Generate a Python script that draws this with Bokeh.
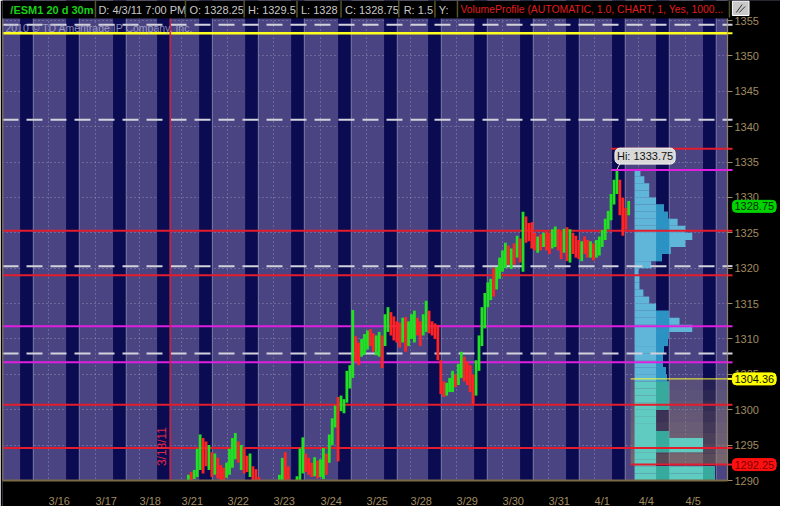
import numpy as np
from bokeh.plotting import figure
from bokeh.models import Range1d, FixedTicker, Label, LinearAxis
from bokeh.core.properties import value
from bokeh.embed import file_html
from bokeh.resources import INLINE

# ---------------- data ----------------
session_labels = ["3/15", "3/16", "3/17", "3/18", "3/21", "3/22", "3/23", "3/24",
                  "3/25", "3/28", "3/29", "3/30", "3/31", "4/1", "4/4", "4/5"]
# half-hour slots per session
session_slots = [47, 48, 45, 43, 47, 47, 48, 47, 45, 47, 47, 47, 47, 45, 48, 47]

# 90-minute bars starting in the 3/21 session
bar_high = [1289, 1289.5, 1290.8, 1291.2, 1291.5, 1294.5, 1296.5, 1296, 1295.5, 1295,
            1294, 1293.8, 1293.2, 1292.2, 1291.8, 1292.5, 1294.5, 1296.0, 1296.7, 1295.5,
            1295, 1294.5, 1293.5, 1293.8, 1292, 1291.6, 1290.5, 1289.5, 1289.2, 1289,
            1289.3, 1289.6, 1289.8, 1290.8, 1293.2, 1294.0, 1292, 1290, 1289.5, 1290.6,
            1294.5, 1296.1, 1293.8, 1293.2, 1292.5, 1293.3, 1292.8, 1293.0, 1294.6, 1293.8,
            1296.5, 1298.8, 1300.6, 1301.8, 1302, 1301.5, 1305.5, 1306.3, 1314.1, 1310.4,
            1309.5, 1310, 1310.7, 1311.2, 1311.4, 1310.8, 1310.5, 1311.0, 1310.5, 1313.5,
            1314.5, 1313.8, 1313.2, 1312.5, 1312.3, 1313, 1313.1, 1312.5, 1313.5, 1314,
            1313, 1312.5, 1313.5, 1315.4, 1314, 1312.5, 1312.2, 1312, 1307, 1304,
            1303.8, 1304.5, 1305.5, 1305, 1306.5, 1308.2, 1307.5, 1306.8, 1306.3, 1305,
            1307, 1310.5, 1314.5, 1316.5, 1318, 1318.5, 1320, 1320.2, 1321.5, 1322.5,
            1323.6, 1323.2, 1322.8, 1323.5, 1324.6, 1324.2, 1328, 1327.3, 1326.4, 1326.5,
            1325, 1324.5, 1324.8, 1325, 1325.2, 1325, 1325.5, 1325.9, 1325.5, 1325.2,
            1325.6, 1325.8, 1325.5, 1325, 1324.6, 1324, 1323.8, 1324.5, 1324, 1323.8,
            1323.5, 1324, 1324.5, 1325.4, 1327, 1328.1, 1330.5, 1332.5, 1333.75, 1332.5,
            1330, 1328.5, 1329.5]
bar_low = [1288, 1288, 1289.5, 1290, 1290.2, 1290.5, 1291.5, 1291, 1292, 1291.5,
           1290.5, 1290.8, 1290.3, 1289.8, 1290, 1290.4, 1290.8, 1291.8, 1293, 1292.5,
           1291.5, 1291, 1291.2, 1290.5, 1290, 1289.8, 1289, 1288, 1287.5, 1287,
           1287.5, 1288, 1288.5, 1289, 1289.5, 1290, 1289.8, 1288.5, 1288.3, 1289,
           1290, 1291, 1291.2, 1290.8, 1290.5, 1290.6, 1290.3, 1290.5, 1290.2, 1290.8,
           1292.5, 1295, 1297.5, 1292.7, 1299.8, 1299.5, 1301, 1303, 1304.5, 1306.8,
           1306.3, 1307.5, 1307.8, 1308.5, 1309, 1308.2, 1307.7, 1307.5, 1305.9, 1309,
           1311, 1310.5, 1309.8, 1309.5, 1308.8, 1309.5, 1308.2, 1309, 1310, 1309.5,
           1310.5, 1309, 1310.5, 1311, 1310.8, 1310.5, 1310, 1307, 1302.2, 1301.8,
           1302, 1302.5, 1302.5, 1303.2, 1303.5, 1304.5, 1304, 1303.5, 1302.5, 1300.8,
           1302, 1305.5, 1309, 1311.5, 1314.5, 1315.5, 1316, 1317, 1318.5, 1319.5,
           1320, 1320.5, 1319.9, 1320.5, 1321.5, 1320.8, 1319.5, 1323.6, 1323.8, 1322.8,
           1322.5, 1322.2, 1322.5, 1323, 1322.5, 1322, 1322.8, 1323, 1322.5, 1321.3,
           1322.2, 1321, 1320.8, 1322, 1321.5, 1321.3, 1321, 1322, 1321.5, 1321.5,
           1321.1, 1321.5, 1321.8, 1323, 1324, 1325.5, 1326.8, 1329, 1330.5, 1327.5,
           1324.6, 1325.5, 1327.5]
bar_dir = ("GGGRG" "GGRRG" "RGRRRG" "GGG" "RGRRGRRR" "RRGRGGG" "GRRRRG" "GGRRRGRG"
           "GRGGGRGGGGG" "RRGGGRRGGR" "GGRRRRGRG" "GGRRGGRRR" "RRRGGGR" "GGRRRRG"
           "GGGGGRGGGGRGRGR" "GRRRRGRGR" "RGGRRGRGRRRGRRGR" "GGGGGGGGRRRG")

# key price levels
level_price = [1354.4, 1353.2, 1341.0, 1336.9, 1333.9, 1325.3, 1320.3, 1319.0,
               1311.8, 1307.95, 1306.7, 1304.36, 1300.7, 1294.6, 1292.25]
level_kind = ["pivot", "yellow", "pivot", "red", "magenta", "red", "pivot", "red",
              "magenta", "pivot", "magenta", "value", "red", "red", "red"]
level_from = ["chart", "chart", "chart", "hi", "hi", "chart", "chart", "chart",
              "chart", "chart", "chart", "profile", "chart", "chart", "profile"]

# volume profile (1-point bins)
profile_price = list(range(1290, 1334))
profile_volume = [82, 82, 22, 22, 70, 70, 35, 22, 22, 22,
                  35, 35, 35, 35, 33, 32, 29, 29, 30, 34,
                  35, 59, 46, 35, 22, 15, 9, 5, 5, 4,
                  17, 28, 37, 52, 59, 52, 44, 34, 30, 22,
                  15, 15, 10, 6]
value_area_low = 1292.25
value_area_high = 1304.36
last_price = 1328.75

header_fields = ["/ESM1 20 d 30m", "D: 4/3/11 7:00 PM", "O: 1328.25", "H: 1329.5",
                 "L: 1328", "C: 1328.75", "R: 1.5", "Y:",
                 "VolumeProfile (AUTOMATIC, 1.0, CHART, 1, Yes, 1000..."]
y_ticks = list(range(1290, 1356, 5))

# ---------------- layout constants ----------------
W, H = 780, 506
BL = 2
HEADER, FOOTER, STRIP = 18, 26, 53
PLOT_W = W - BL - STRIP
PLOT_H = H - FOOTER - HEADER
X_PLOT = 741.0
Y0, Y_PLOT = 1290.0, 1355.3
KX = PLOT_W / X_PLOT
PPT = PLOT_H / (Y_PLOT - Y0)
X_END = X_PLOT + STRIP / KX
Y_END = Y_PLOT + HEADER / PPT
Y_START = Y0 - FOOTER / PPT
Y_HEAD = Y_PLOT + (HEADER / 2) / PPT

LIGHT = "#4a4582"
DARK = "#0b0b52"
TAN = "#a08c60"
FONT = "Liberation Sans"

session_start = np.concatenate([[0], np.cumsum(session_slots)[:-1]]).astype(float)
band_left = session_start + 18
band_right = band_left + 13.5

p = figure(width=W, height=H, x_range=Range1d(0, X_END), y_range=Range1d(Y_START, Y_END),
           output_backend="svg", toolbar_location=None, y_axis_location=None,
           x_axis_location=None,
           min_border_left=BL, min_border_right=0, min_border_top=0, min_border_bottom=0)
p.background_fill_color = LIGHT
p.border_fill_color = "black"
p.outline_line_color = None

p.xgrid.ticker = FixedTicker(ticks=list(session_start))
p.ygrid.ticker = FixedTicker(ticks=y_ticks)
for g in (p.xgrid, p.ygrid):
    g.grid_line_color = "#a4a4c8"
    g.grid_line_dash = "1 3"
    g.grid_line_alpha = 0.75

# RTH bands
p.quad(left=band_left, right=band_right, bottom=1280, top=1360, fill_color=DARK, line_color=None)
p.segment(x0=band_right, x1=band_right, y0=1280, y1=1360, line_color="#7c7ca6", line_width=1)

# value area box
profile_left = float(session_start[14] - 4)
nstrip = 8
edges = np.linspace(value_area_high, value_area_low, nstrip + 1)
p.quad(left=profile_left - 4, right=X_PLOT, top=edges[:-1], bottom=edges[1:],
       fill_color="#9a8060", fill_alpha=np.linspace(0.18, 0.55, nstrip), line_color=None)

# volume profile
pp = np.array(profile_price, dtype=float)
pv = np.array(profile_volume, dtype=float)
upper = pp >= 1304
cols = np.where(upper, "#60b6d8", "#60cbc1")
p.hbar(y=pp + 0.5, height=1, left=profile_left, right=profile_left + pv,
       fill_color=list(cols), line_color=None)
for bl, br in zip(band_left, band_right):
    lo = np.maximum(np.full_like(pv, profile_left), bl)
    hi = np.minimum(profile_left + pv, br)
    m = hi > lo
    if m.any():
        p.hbar(y=pp[m] + 0.5, height=1, left=lo[m], right=hi[m],
               fill_color=list(np.where(upper[m], "#2b92c4", "#37aa9e")), line_color=None)

# bars
bx = session_start[4] + 1 + 3 * np.arange(len(bar_high))
bcol = ["#22e022" if c == "G" else "#ff2424" for c in bar_dir]
hi_idx = int(np.argmax(bar_high))
hi_x = float(bx[hi_idx])
hi_val = bar_high[hi_idx]

# level lines
style = {"pivot": ("#d2d2dc", 2, "16 8"), "yellow": ("#ffff20", 2.5, "solid"),
         "red": ("#e41c2c", 2, "solid"), "magenta": ("#e01ee0", 2, "solid"),
         "value": ("#ffff30", 1, "solid")}
start_of = {"chart": 0, "hi": hi_x - 6, "profile": profile_left - 4}
for pr, k, f in zip(level_price, level_kind, level_from):
    c, w, d = style[k]
    p.segment(x0=[start_of[f]], x1=[X_PLOT], y0=[pr], y1=[pr], line_color=c, line_width=w, line_dash=d)

p.segment(x0=bx, x1=bx, y0=bar_low, y1=bar_high, line_color=bcol, line_width=2.8)

# 3/18 expiration marker
exp_x = float(band_right[3])
p.segment(x0=[exp_x], x1=[exp_x], y0=[Y0], y1=[Y_PLOT], line_color="#d02040", line_width=1.5)
p.text(x=[exp_x - 8], y=[1294.8], text=["3/18/11"], angle=np.pi / 2, text_align="center",
       text_baseline="middle", text_color="#e02848", text_font=value(FONT), text_font_size="12px")

# Hi label
p.segment(x0=[hi_x], x1=[hi_x + 4], y0=[hi_val + 0.2], y1=[hi_val + 1.3], line_color="#d0d0d0", line_width=1)
p.add_layout(Label(x=hi_x, y=hi_val + 2.1, x_offset=-2, text=f"Hi: {hi_val:.2f}",
                   text_font=FONT, text_font_size="11px", text_color="#111111",
                   text_baseline="middle", background_fill_color="#d9d9d9",
                   border_line_color="#f0f0f0", border_radius=5, padding=2))

# copyright
p.add_layout(Label(x=3, y=Y_PLOT - 1.3, text="2010 \u00a9 TD Ameritrade IP Company, Inc.",
                   text_font=FONT, text_font_size="10.5px", text_color="#b8b8d4", text_alpha=0.75,
                   text_baseline="middle"))

# black surroundings: right strip, header, footer; plot borders
p.quad(left=[X_PLOT], right=[X_END + 5], bottom=[1200], top=[1400], fill_color="black", line_color=None)
p.quad(left=[-5], right=[X_END + 5], bottom=[Y_PLOT], top=[1400], fill_color="black", line_color=None)
p.quad(left=[-5], right=[X_END + 5], bottom=[1200], top=[Y0], fill_color="black", line_color=None)
p.segment(x0=[0, 0], x1=[0, X_PLOT], y0=[Y0, Y0], y1=[Y_PLOT, Y0], line_color="#7a6a46", line_width=2)
p.segment(x0=[X_PLOT], x1=[X_PLOT], y0=[Y0], y1=[Y_PLOT], line_color="#8c8068", line_width=1.2)

# price axis at the right edge of the price area
yax = LinearAxis(fixed_location=X_PLOT, ticker=FixedTicker(ticks=y_ticks))
yax.axis_line_color = None
yax.major_tick_line_color = TAN
yax.major_tick_out = 5
yax.major_tick_in = 0
yax.minor_tick_line_color = None
yax.major_label_text_color = TAN
yax.major_label_text_font = FONT
yax.major_label_text_font_size = "11px"
yax.major_label_standoff = 2
p.add_layout(yax, "right")

# date axis at the bottom edge of the price area
tick_pos = [int(session_start[i] + round(2.65 * len(session_labels[i])))
            for i in range(1, len(session_labels))]
xax = LinearAxis(fixed_location=Y0, ticker=FixedTicker(ticks=tick_pos))
xax.major_label_overrides = {t: session_labels[i + 1] for i, t in enumerate(tick_pos)}
xax.axis_line_color = None
xax.major_tick_line_color = None
xax.minor_tick_line_color = None
xax.major_label_text_color = TAN
xax.major_label_text_font = FONT
xax.major_label_text_font_size = "11px"
xax.major_label_standoff = 8
p.add_layout(xax, "below")

# coloured level marks on the price axis
mark_col = [style[k][0] for k in level_kind]
p.segment(x0=[X_PLOT] * len(level_price), x1=[X_PLOT + 5 / KX] * len(level_price),
          y0=level_price, y1=level_price, line_color=mark_col, line_width=2)

# right price boxes
for val, bg, fg in [(last_price, "#00d400", "#002800"), (value_area_high, "#ffff00", "#101000"),
                    (value_area_low, "#ff1010", "#7a0000")]:
    p.add_layout(Label(x=X_PLOT + 5, y=val, text=f"{val:.2f}",
                       text_font=FONT, text_font_size="11px", text_color=fg,
                       text_baseline="middle", background_fill_color=bg,
                       border_line_color=bg, border_radius=4, padding=2))

# header texts
hx = [8, 98, 191, 251, 305, 350, 410, 446, 468]
hcol = ["#18d018"] + ["#c8c8c8"] * 7 + ["#e01c1c"]
hstyle = ["bold"] + ["normal"] * 8
hsize = ["11px"] * 8 + ["10.4px"]
p.text(x=hx, y=[Y_HEAD] * len(hx), text=header_fields, text_color=hcol,
       text_font_style=hstyle, text_font=value(FONT), text_font_size=hsize,
       text_baseline="middle", text_align="left")
sep_x = [95, 187, 247, 301, 346, 405, 442, 465, 743]
p.segment(x0=sep_x, x1=sep_x, y0=[Y_PLOT + 0.15] * len(sep_x), y1=[Y_END] * len(sep_x),
          line_color="#55532e", line_width=1.5)

# chart-settings button in the top-right corner
p.quad(left=[746], right=[763], bottom=[Y_END - 15 / PPT], top=[Y_END - 0.5 / PPT],
       fill_color="#c8c8c8", line_color="#ffffff", line_width=1)
p.segment(x0=[750, 753], x1=[756, 759], y0=[Y_END - 12 / PPT, Y_END - 12 / PPT],
          y1=[Y_END - 4 / PPT, Y_END - 6 / PPT], line_color="#303030", line_width=1)

open("out.html", "w").write(file_html(p, INLINE))
